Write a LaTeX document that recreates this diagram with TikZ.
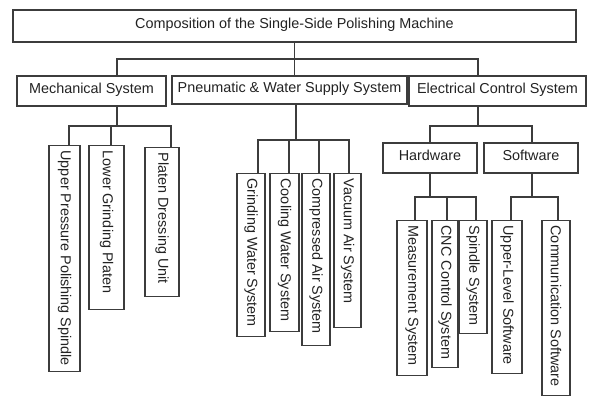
\documentclass[tikz,border=0pt]{standalone}
\usepackage{fontspec}
\setmainfont{Liberation Sans}
\usepackage{xcolor}
\usetikzlibrary{calc}
\definecolor{lineGray}{RGB}{60,60,60}
\definecolor{textGray}{RGB}{34,34,34}

\tikzset{
  link/.style={draw=lineGray,line width=1.2pt},
  hbox/.style 2 args={draw=lineGray,line width=1.2pt,text=textGray,inner sep=0pt,minimum width=#1pt,minimum height=#2pt,
    text height=10.5pt,text depth=6pt,font=\fontsize{14.4}{16}\selectfont},
  vbox/.style 2 args={draw=lineGray,line width=1.2pt,text=textGray,rotate=-90,anchor=west,inner xsep=5pt,inner ysep=0pt,
    minimum height=#2pt,font=\fontsize{14.4}{16}\selectfont,
    execute at begin node={\hbox to #1pt\bgroup},execute at end node={\hfil\egroup}}
}

\begin{document}
\begin{tikzpicture}[x=1pt,y=-1pt]
\path[use as bounding box] (0,0) rectangle (600,411);

% first and second level
\node[hbox={563}{32}] (top) at (294.5,26) {Composition of the Single-Side Polishing Machine};
\node[hbox={149}{30}] (mech) at (91.5,91) {Mechanical System};
\node[hbox={235}{28}] (pneu) at (289.5,90) {Pneumatic \& Water Supply System};
\node[hbox={177}{30}] (elec) at (497.5,91) {Electrical Control System};
\node[hbox={94}{30}] (hard) at (430,158) {Hardware};
\node[hbox={94}{30}] (soft) at (531,158) {Software};

% mechanical parts
\node[vbox={216}{31}] (up) at (64.5,145) {Upper Pressure Polishing Spindle};
\node[vbox={154}{35}] (lg) at (106.5,145) {Lower Grinding Platen};
\node[vbox={139}{34}] (pd) at (162,147) {Platen Dressing Unit};

% pneumatic and water parts
\node[vbox={153}{28}] (gw) at (251,173) {Grinding Water System};
\node[vbox={148}{29}] (cw) at (284.5,173) {Cooling Water System};
\node[vbox={162}{28}] (ca) at (316,173) {Compressed Air System};
\node[vbox={144}{27}] (va) at (347.5,173) {Vacuum Air System};

% electrical parts
\node[vbox={145}{30}] (ms) at (412,220) {Measurement System};
\node[vbox={137}{26}] (cnc) at (445,220) {CNC Control System};
\node[vbox={103}{28}] (sp) at (473,220) {Spindle System};
\node[vbox={143}{30}] (ul) at (507,220) {Upper-Level Software};
\node[vbox={165}{28}] (cs) at (556,220) {Communication Software};

% connectors
\coordinate (j1) at (117,59);
\coordinate (j3) at (478,59);
\draw[link] (top.south) -- (top.south |- pneu.north);
\draw[link] (mech.north -| j1) -- (j1) -- (j3) -- (elec.north -| j3);

\coordinate (jm) at (117,126);
\draw[link] (mech.south -| jm) -- (jm);
\foreach \c/\x in {up/69,lg/111,pd/171}{
  \coordinate (j) at (\x,126);
  \draw[link] (jm) -| (\c.west -| j);
}

\coordinate (jp) at (296,140);
\draw[link] (pneu.south -| jp) -- (jp);
\foreach \c/\x in {gw/258,cw/289,ca/319,va/349}{
  \coordinate (j) at (\x,140);
  \draw[link] (jp) -| (\c.west -| j);
}

\coordinate (je) at (478,126);
\draw[link] (elec.south -| je) -- (je);
\foreach \c/\x in {hard/430,soft/532}{
  \coordinate (j) at (\x,126);
  \draw[link] (je) -| (\c.north -| j);
}

\coordinate (jh) at (430,197);
\draw[link] (hard.south -| jh) -- (jh);
\foreach \c/\x in {ms/415,cnc/447,sp/476}{
  \coordinate (j) at (\x,197);
  \draw[link] (jh) -| (\c.west -| j);
}

\coordinate (js) at (532,197);
\draw[link] (soft.south -| js) -- (js);
\foreach \c/\x in {ul/511,cs/558}{
  \coordinate (j) at (\x,197);
  \draw[link] (js) -| (\c.west -| j);
}
\end{tikzpicture}
\end{document}
